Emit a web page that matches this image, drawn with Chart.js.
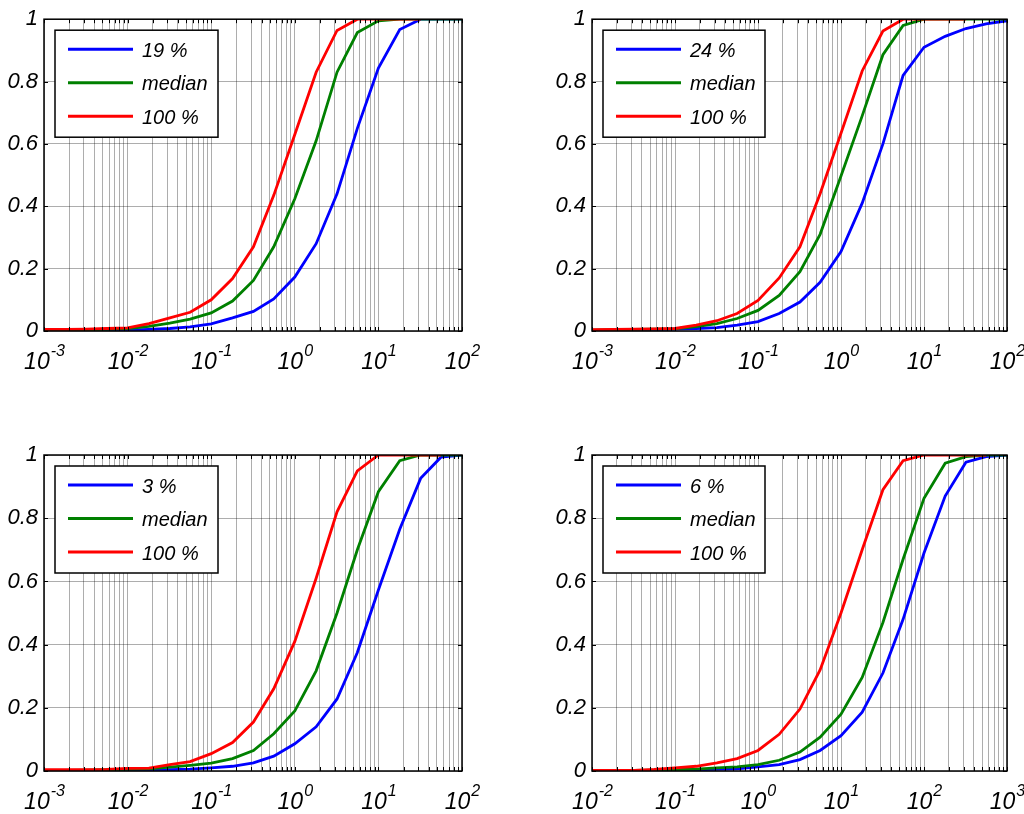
<!DOCTYPE html>
<html>
<head>
<meta charset="utf-8">
<script src="https://cdn.jsdelivr.net/npm/chart.js@4.4.1/dist/chart.umd.min.js"></script>
<style>
  body { margin: 0; background: #fff; width: 1024px; height: 814px; position: relative; overflow: hidden; }
  canvas { position: absolute; }
</style>
</head>
<body>
<canvas id="c1" width="512" height="407" style="left:0;top:0"></canvas>
<canvas id="c2" width="512" height="407" style="left:512px;top:0"></canvas>
<canvas id="c3" width="512" height="407" style="left:0;top:407px"></canvas>
<canvas id="c4" width="512" height="407" style="left:512px;top:407px"></canvas>
<script>
// Data (x sampled every quarter decade)

const xA = [0.001, 0.0018, 0.0032, 0.0056, 0.01, 0.018, 0.032, 0.056, 0.1, 0.18, 0.32, 0.56, 1, 1.8, 3.2, 5.6, 10, 18, 32, 56, 100];
const xB = [0.01, 0.018, 0.032, 0.056, 0.1, 0.18, 0.32, 0.56, 1, 1.8, 3.2, 5.6, 10, 18, 32, 56, 100, 180, 320, 560, 1000];

const labels1 = ["19 %", "median", "100 %"];
const blue1 = [0.002, 0.002, 0.002, 0.002, 0.003, 0.005, 0.008, 0.013, 0.023, 0.042, 0.063, 0.103, 0.173, 0.28, 0.44, 0.65, 0.843, 0.967, 1, 1, 1];
const green1 = [0.003, 0.003, 0.004, 0.005, 0.008, 0.015, 0.025, 0.038, 0.058, 0.096, 0.162, 0.27, 0.424, 0.61, 0.83, 0.957, 0.995, 1, 1, 1, 1];
const red1 = [0.005, 0.005, 0.006, 0.008, 0.01, 0.024, 0.042, 0.06, 0.1, 0.168, 0.27, 0.435, 0.63, 0.83, 0.964, 1, 1, 1, 1, null, null];

const labels2 = ["24 %", "median", "100 %"];
const blue2 = [0.002, 0.002, 0.003, 0.004, 0.006, 0.008, 0.011, 0.019, 0.03, 0.056, 0.093, 0.156, 0.255, 0.41, 0.6, 0.82, 0.91, 0.945, 0.97, 0.985, 0.995];
const green2 = [0.003, 0.004, 0.005, 0.006, 0.007, 0.014, 0.024, 0.04, 0.066, 0.114, 0.19, 0.31, 0.497, 0.69, 0.886, 0.98, 1, 1, 1, 1, 1];
const red2 = [0.004, 0.005, 0.006, 0.007, 0.008, 0.019, 0.033, 0.056, 0.098, 0.17, 0.27, 0.44, 0.634, 0.834, 0.962, 1, 1, 1, 1, null, null];

const labels3 = ["3 %", "median", "100 %"];
const blue3 = [0.001, 0.001, 0.001, 0.002, 0.002, 0.003, 0.004, 0.006, 0.01, 0.015, 0.026, 0.047, 0.086, 0.14, 0.228, 0.375, 0.573, 0.765, 0.926, 0.993, 1];
const green3 = [0.002, 0.002, 0.003, 0.004, 0.005, 0.007, 0.012, 0.018, 0.025, 0.039, 0.065, 0.118, 0.19, 0.317, 0.5, 0.7, 0.884, 0.982, 1, 1, 1];
const red3 = [0.004, 0.004, 0.004, 0.005, 0.008, 0.009, 0.02, 0.03, 0.055, 0.09, 0.155, 0.26, 0.41, 0.61, 0.82, 0.95, 1, 1, 1, 1, null];

const labels4 = ["6 %", "median", "100 %"];
const blue4 = [0.001, 0.001, 0.001, 0.002, 0.003, 0.004, 0.005, 0.007, 0.013, 0.02, 0.036, 0.065, 0.112, 0.186, 0.31, 0.48, 0.69, 0.87, 0.977, 0.995, 1];
const green4 = [0.002, 0.002, 0.002, 0.003, 0.004, 0.006, 0.01, 0.013, 0.02, 0.034, 0.06, 0.107, 0.18, 0.296, 0.47, 0.67, 0.863, 0.974, 0.995, 1, 1];
const red4 = [0.002, 0.002, 0.002, 0.005, 0.01, 0.015, 0.026, 0.039, 0.065, 0.116, 0.196, 0.32, 0.5, 0.7, 0.89, 0.982, 1, 1, 1, 1, null];

const yTicks = [0, 0.2, 0.4, 0.6, 0.8, 1];
const colors = ["#0000ff", "#008000", "#ff0000"];
const FONT = "'Liberation Sans', 'DejaVu Sans', sans-serif";

// Helpers

function logTicks(lo, hi) {
    const out = [];
    for (let d = lo; d < hi; d++) {
        for (let m = 1; m < 10; m++) out.push(m * Math.pow(10, d));
    }
    out.push(Math.pow(10, hi));
    return out;
}

const framePlugin = {
    id: "frame",
    afterDraw(chart, args, opts) {
        const ctx = chart.ctx;
        const a = chart.chartArea;
        const xs = chart.scales.x;
        const ys = chart.scales.y;
        ctx.save();

        // box
        ctx.strokeStyle = "#000";
        ctx.lineWidth = 1.5;
        ctx.strokeRect(a.left, a.top, a.right - a.left, a.bottom - a.top);

        // inner ticks
        ctx.lineWidth = 1;
        ctx.beginPath();
        xs.ticks.forEach(t => {
            const px = Math.round(xs.getPixelForValue(t.value)) + 0.5;
            ctx.moveTo(px, a.top); ctx.lineTo(px, a.top + 4);
            ctx.moveTo(px, a.bottom); ctx.lineTo(px, a.bottom - 4);
        });
        ys.ticks.forEach(t => {
            const py = Math.round(ys.getPixelForValue(t.value)) + 0.5;
            ctx.moveTo(a.left, py); ctx.lineTo(a.left + 4, py);
            ctx.moveTo(a.right, py); ctx.lineTo(a.right - 4, py);
        });
        ctx.stroke();

        // x labels 10^n
        ctx.fillStyle = "#000";
        ctx.textBaseline = "alphabetic";
        for (let d = opts.lo; d <= opts.hi; d++) {
            const px = xs.getPixelForValue(Math.pow(10, d));
            ctx.font = "italic 23px " + FONT;
            const wb = ctx.measureText("10").width;
            ctx.font = "italic 16px " + FONT;
            const ws = ctx.measureText(String(d)).width;
            const x0 = px - (wb + ws) / 2;
            ctx.font = "italic 23px " + FONT;
            ctx.textAlign = "left";
            ctx.fillText("10", x0, a.bottom + 38);
            ctx.font = "italic 16px " + FONT;
            ctx.fillText(String(d), x0 + wb + 1, a.bottom + 25);
        }

        // legend
        const lx = a.left + 11, ly = a.top + 11, lw = opts.legendW, lh = 107;
        ctx.fillStyle = "#fff";
        ctx.fillRect(lx, ly, lw, lh);
        ctx.strokeStyle = "#000";
        ctx.lineWidth = 1.5;
        ctx.strokeRect(lx, ly, lw, lh);
        ctx.font = "italic 20px " + FONT;
        ctx.textBaseline = "middle";
        chart.data.datasets.forEach((ds, i) => {
            const yy = ly + 19 + i * 33.5;
            ctx.strokeStyle = ds.borderColor;
            ctx.lineWidth = 3;
            ctx.beginPath();
            ctx.moveTo(lx + 13, yy);
            ctx.lineTo(lx + 78, yy);
            ctx.stroke();
            ctx.fillStyle = "#000";
            ctx.fillText(ds.label, lx + 87, yy + 2);
        });
        ctx.restore();
    }
};

function makeChart(id, xs, names, series, lo, hi, pad, yWidth, xHeight, legendW) {
    const ctx = document.getElementById(id);
    const allTicks = logTicks(lo, hi);
    return new Chart(ctx, {
        type: "line",
        data: {
            datasets: series.map((s, i) => ({
                label: names[i],
                data: xs.map((x, j) => ({ x: x, y: s[j] })),
                borderColor: colors[i],
                borderWidth: 2.8,
                pointRadius: 0,
                fill: false,
                tension: 0,
                spanGaps: false,
                order: 3 - i,
            })),
        },
        options: {
            responsive: false,
            animation: false,
            events: [],
            layout: { padding: pad },
            plugins: {
                legend: { display: false },
                tooltip: { enabled: false },
                frame: { lo: lo, hi: hi, legendW: legendW },
            },
            scales: {
                x: {
                    type: "logarithmic",
                    min: Math.pow(10, lo),
                    max: Math.pow(10, hi),
                    afterBuildTicks: (scale) => {
                        scale.ticks = allTicks.map(v => ({ value: v }));
                    },
                    afterFit: (scale) => { scale.height = xHeight; },
                    ticks: { display: false },
                    grid: { color: "rgba(0,0,0,0.32)", lineWidth: 1, drawTicks: false },
                    border: { display: false },
                },
                y: {
                    min: 0,
                    max: 1,
                    afterBuildTicks: (scale) => {
                        scale.ticks = yTicks.map(v => ({ value: v }));
                    },
                    afterFit: (scale) => { scale.width = yWidth; },
                    ticks: {
                        color: "#000",
                        padding: 6,
                        font: { family: FONT, size: 22, style: "italic" },
                        callback: (v) => String(v),
                    },
                    grid: { color: "rgba(0,0,0,0.32)", lineWidth: 1, drawTicks: false },
                    border: { display: false },
                },
            },
        },
        plugins: [framePlugin],
    });
}

const chart1 = makeChart("c1", xA, labels1, [blue1, green1, red1], -3, 2,
    { top: 13, left: 0, right: 50, bottom: 0 }, 44, 76, 163);
const chart2 = makeChart("c2", xA, labels2, [blue2, green2, red2], -3, 2,
    { top: 13, left: 0, right: 17, bottom: 0 }, 80, 76, 162);
const chart3 = makeChart("c3", xA, labels3, [blue3, green3, red3], -3, 2,
    { top: 48, left: 0, right: 50, bottom: 0 }, 44, 43, 163);
const chart4 = makeChart("c4", xB, labels4, [blue4, green4, red4], -2, 3,
    { top: 48, left: 0, right: 17, bottom: 0 }, 80, 43, 162);
</script>
</body>
</html>
